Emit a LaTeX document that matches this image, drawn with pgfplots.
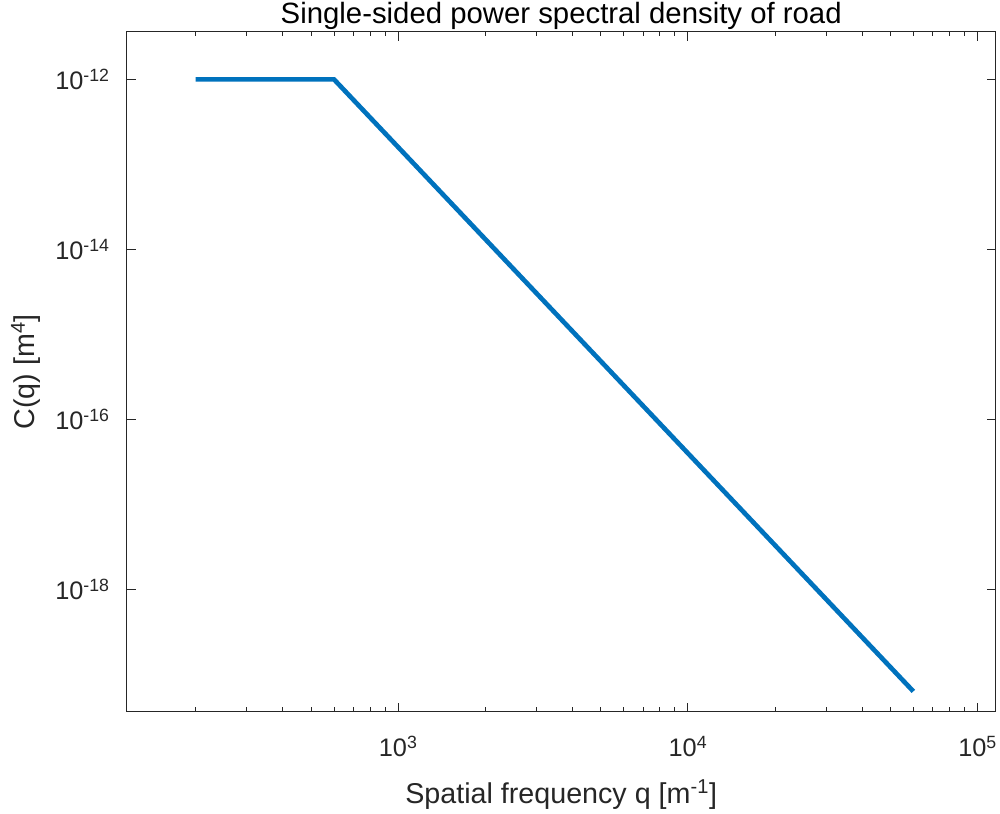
\documentclass[border=0pt]{standalone}
\usepackage{fontspec}
\setmainfont{Liberation Sans}
\usepackage{pgfplots}
\pgfplotsset{compat=1.18}
\definecolor{mblue}{rgb}{0,0.447,0.741}
\definecolor{axgray}{rgb}{0.15,0.15,0.15}
\begin{document}
\begin{tikzpicture}
\useasboundingbox (-95pt,-76pt) rectangle (654.95pt,533.8pt);
\begin{axis}[
  xmode=log, ymode=log,
  scale only axis, width=651.75pt, height=510pt,
  xmin=115.5, xmax=115500, ymin=3.63e-20, ymax=3.63e-12,
  xtick={1000,10000,100000},
  xticklabels={10\textsuperscript{3},10\textsuperscript{4},10\textsuperscript{5}},
  minor xtick={200,300,400,500,600,700,800,900,2000,3000,4000,5000,6000,7000,8000,9000,20000,30000,40000,50000,60000,70000,80000,90000},
  ytick={1e-18,1e-16,1e-14,1e-12},
  yticklabels={10\textsuperscript{-18},10\textsuperscript{-16},10\textsuperscript{-14},10\textsuperscript{-12}},
  tick align=inside, major tick length=6.75pt, minor tick length=3.3pt,
  axis line style={axgray, line width=0.7pt},
  tick style={axgray, line width=0.7pt},
  ticklabel style={font=\fontsize{19}{21}\selectfont, text=axgray},
  xticklabel style={anchor=base, inner sep=0pt, yshift=-33.75pt},
  yticklabel style={anchor=east, inner sep=0pt, xshift=-12.5pt},
  title={Single-sided power spectral density of road},
  title style={font=\fontsize{22}{24}\selectfont, text=black, anchor=base, at={(axis description cs:0.5,1.0)}},
  xlabel={Spatial frequency q [m\textsuperscript{-1}]},
  xlabel style={font=\fontsize{21.5}{23}\selectfont, text=axgray, anchor=base, at={(axis description cs:0.5,-0.1353)}},
  ylabel={C(q) [m\textsuperscript{4}]},
  ylabel style={font=\fontsize{21.5}{23}\selectfont, text=axgray, anchor=base, at={(axis description cs:-0.1056,0.5)}},
]
\addplot[mblue, line width=3.5pt] coordinates {
  (200,1e-12) (600,1e-12) (60000,6.31e-20)
};
\end{axis}
\end{tikzpicture}
\end{document}
